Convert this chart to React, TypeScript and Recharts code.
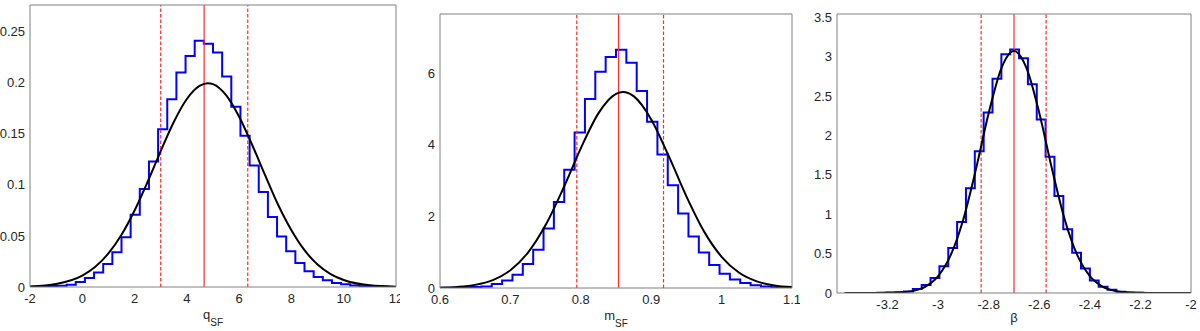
import React from "react";
import { ComposedChart, Line, XAxis, YAxis, ReferenceLine } from "recharts";

// q_SF panel: histogram (40 bins of 0.35 from -2) and fitted curve
const qBinStart = -2;
const qBinWidth = 0.35;
const qHist = [
  0.0003, 0.0006, 0.001, 0.0013, 0.0023, 0.005, 0.0088, 0.0143, 0.0225, 0.034,
  0.0486, 0.0707, 0.0958, 0.1229, 0.1545, 0.1838, 0.2099, 0.2262, 0.2409, 0.238,
  0.2295, 0.206, 0.1763, 0.148, 0.119, 0.0929, 0.0684, 0.0495, 0.0349, 0.0235,
  0.0153, 0.0098, 0.0065, 0.0039, 0.0026, 0.0015, 0.0008, 0.0004, 0.0002, 0.0001,
];
const qFitX = [-2, -1, 0, 0.5, 1, 1.5, 2, 2.5, 3, 3.5, 4, 4.5, 4.8, 5, 5.5, 6, 6.5, 7, 7.5, 8, 8.5, 9, 9.5, 10, 11, 12];
const qFitY = [
  0.0006, 0.003, 0.0112, 0.0198, 0.0328, 0.0511, 0.0749, 0.103, 0.133, 0.1615, 0.184, 0.197, 0.1995,
  0.1985, 0.1877, 0.1666, 0.139, 0.109, 0.08, 0.0555, 0.036, 0.022, 0.0126, 0.0068, 0.0016, 0.0003,
];
const qLines = [4.66, 3.0, 6.33]; // median, lower, upper
const qXTicks = [-2, 0, 2, 4, 6, 8, 10, 12];
const qYTicks = [0, 0.05, 0.1, 0.15, 0.2, 0.25];

// m_SF panel
const mBinStart = 0.6;
const mBinWidth = 0.5 / 34;
const mHist = [
  0.005, 0.01, 0.02, 0.03, 0.045, 0.11, 0.21, 0.37, 0.67, 1.07, 1.66, 2.4, 3.3, 4.34, 5.28, 6.04, 6.45,
  6.65, 6.29, 5.5, 4.64, 3.73, 2.87, 2.08, 1.44, 0.99, 0.64, 0.4, 0.24, 0.14, 0.08, 0.045, 0.02, 0.01,
];
const mFitX = [0.6, 0.625, 0.65, 0.675, 0.7, 0.725, 0.75, 0.775, 0.8, 0.825, 0.85, 0.86, 0.875, 0.9, 0.925, 0.95, 0.975, 1.0, 1.025, 1.05, 1.075, 1.1];
const mFitY = [
  0.0096, 0.031, 0.087, 0.22, 0.495, 0.99, 1.757, 2.777, 3.9, 4.876, 5.419, 5.47, 5.356, 4.707, 3.68,
  2.558, 1.581, 0.87, 0.425, 0.185, 0.0715, 0.0246,
];
const mLines = [0.8536, 0.7943, 0.9175];
const mXTicks = [0.6, 0.7, 0.8, 0.9, 1, 1.1];
const mYTicks = [0, 2, 4, 6];

// beta panel
const bBinStart = -3.24;
const bBinWidth = 0.035;
const bHist = [
  0.002, 0.005, 0.01, 0.02, 0.05, 0.1, 0.19, 0.34, 0.57, 0.9, 1.33, 1.8, 2.29, 2.72, 3.03,
  3.09, 2.98, 2.65, 2.2, 1.73, 1.23, 0.81, 0.51, 0.31, 0.16, 0.08, 0.04, 0.015, 0.006, 0.002,
];
const bFitX = [-3.37, -3.3, -3.2, -3.15, -3.1, -3.05, -3, -2.95, -2.9, -2.85, -2.8, -2.75, -2.7, -2.65, -2.6, -2.55, -2.5, -2.45, -2.4, -2.35, -2.3, -2.25, -2.2, -2.1, -2];
const bFitY = [
  0, 0.0001, 0.0019, 0.0077, 0.027, 0.082, 0.214, 0.483, 0.94, 1.578, 2.284, 2.851, 3.07,
  2.851, 2.284, 1.578, 0.94, 0.483, 0.214, 0.082, 0.027, 0.0077, 0.0019, 0.0001, 0,
];
const bLines = [-2.7, -2.83, -2.573];
const bXTicks = [-3.2, -3, -2.8, -2.6, -2.4, -2.2, -2];
const bYTicks = [0, 0.5, 1, 1.5, 2, 2.5, 3, 3.5];

const AXIS = "#808080";
const TEXT = "#262626";
const FONT = "'Liberation Sans', Arial, Helvetica, sans-serif";

function stairs(start: number, width: number, values: number[]) {
  const pts = [{ x: start, y: 0 }];
  values.forEach((v, i) => pts.push({ x: start + i * width, y: v }));
  const end = start + values.length * width;
  pts.push({ x: end, y: values[values.length - 1] });
  pts.push({ x: end, y: 0 });
  return pts;
}

function pairs(xs: number[], ys: number[]) {
  return xs.map((x, i) => ({ x, y: ys[i] }));
}

const axisLabel = (main: string, sub: string | null, dy: number) => (props: any) => {
  const vb = props.viewBox || {};
  return (
    <text x={vb.x + vb.width / 2} y={vb.y + dy} textAnchor="middle" fill={TEXT} fontSize={13} fontFamily={FONT}>
      <tspan>{main}</tspan>
      {sub && (
        <tspan fontSize={10} dy={7}>
          {sub}
        </tspan>
      )}
    </text>
  );
};

type PanelProps = {
  left: number;
  margin: { top: number; right: number; left: number; bottom: number };
  yAxisWidth: number;
  xAxisHeight: number;
  xDomain: [number, number];
  yDomain: [number, number];
  xTicks: number[];
  yTicks: number[];
  hist: { x: number; y: number }[];
  fit: { x: number; y: number }[];
  lines: number[];
  label: (props: any) => React.ReactNode;
};

function Panel(p: PanelProps) {
  const tickStyle = { fontSize: 13, fill: TEXT, fontFamily: FONT };
  return (
    <div style={{ position: "absolute", left: p.left, top: 0 }}>
      <ComposedChart width={400} height={331} margin={p.margin}>
        <XAxis
          xAxisId="b"
          type="number"
          dataKey="x"
          domain={p.xDomain}
          ticks={p.xTicks}
          allowDataOverflow
          interval={0}
          height={p.xAxisHeight}
          tickLine={false}
          tickSize={0}
          tickMargin={7}
          axisLine={{ stroke: AXIS }}
          tick={tickStyle}
          label={p.label}
        />
        <XAxis
          xAxisId="bi"
          type="number"
          domain={p.xDomain}
          ticks={p.xTicks}
          allowDataOverflow
          interval={0}
          mirror
          tick={false}
          axisLine={false}
          tickLine={{ stroke: AXIS }}
          tickSize={4}
        />
        <XAxis
          xAxisId="t"
          orientation="top"
          type="number"
          domain={p.xDomain}
          ticks={p.xTicks}
          allowDataOverflow
          interval={0}
          mirror
          tick={false}
          axisLine={{ stroke: AXIS }}
          tickLine={{ stroke: AXIS }}
          tickSize={4}
        />
        <YAxis
          yAxisId="l"
          type="number"
          domain={p.yDomain}
          ticks={p.yTicks}
          allowDataOverflow
          interval={0}
          width={p.yAxisWidth}
          tickLine={false}
          tickSize={0}
          tickMargin={5}
          axisLine={{ stroke: AXIS }}
          tick={tickStyle}
        />
        <YAxis
          yAxisId="li"
          type="number"
          domain={p.yDomain}
          ticks={p.yTicks}
          allowDataOverflow
          interval={0}
          mirror
          tick={false}
          axisLine={false}
          tickLine={{ stroke: AXIS }}
          tickSize={4}
        />
        <YAxis
          yAxisId="r"
          orientation="right"
          type="number"
          domain={p.yDomain}
          ticks={p.yTicks}
          allowDataOverflow
          interval={0}
          mirror
          tick={false}
          axisLine={{ stroke: AXIS }}
          tickLine={{ stroke: AXIS }}
          tickSize={4}
        />
        <Line
          xAxisId="b"
          yAxisId="l"
          data={p.hist}
          dataKey="y"
          type="stepAfter"
          stroke="#0000ff"
          strokeWidth={2}
          dot={false}
          isAnimationActive={false}
        />
        <ReferenceLine xAxisId="b" yAxisId="l" x={p.lines[0]} stroke="#ff2a2a" strokeWidth={1.2} />
        <ReferenceLine xAxisId="b" yAxisId="l" x={p.lines[1]} stroke="#ff2a2a" strokeWidth={1.2} strokeDasharray="3.5 2" />
        <ReferenceLine xAxisId="b" yAxisId="l" x={p.lines[2]} stroke="#ff2a2a" strokeWidth={1.2} strokeDasharray="3.5 2" />
        <Line
          xAxisId="b"
          yAxisId="l"
          data={p.fit}
          dataKey="y"
          type="monotone"
          stroke="#000000"
          strokeWidth={2}
          dot={false}
          isAnimationActive={false}
        />
      </ComposedChart>
    </div>
  );
}

export default function App() {
  return (
    <div
      style={{
        position: "absolute",
        left: 0,
        top: 0,
        width: 1200,
        height: 331,
        background: "#ffffff",
        fontFamily: FONT,
      }}
    >
      <Panel
        left={0}
        margin={{ top: 5, right: 4, left: 0, bottom: 0 }}
        yAxisWidth={30}
        xAxisHeight={44}
        xDomain={[-2, 12]}
        yDomain={[0, 0.276]}
        xTicks={qXTicks}
        yTicks={qYTicks}
        hist={stairs(qBinStart, qBinWidth, qHist)}
        fit={pairs(qFitX, qFitY)}
        lines={qLines}
        label={axisLabel("q", "SF", 32)}
      />
      <Panel
        left={400}
        margin={{ top: 14, right: 8, left: 0, bottom: 0 }}
        yAxisWidth={40}
        xAxisHeight={43}
        xDomain={[0.6, 1.1]}
        yDomain={[0, 7.65]}
        xTicks={mXTicks}
        yTicks={mYTicks}
        hist={stairs(mBinStart, mBinWidth, mHist)}
        fit={pairs(mFitX, mFitY)}
        lines={mLines}
        label={axisLabel("m", "SF", 32)}
      />
      <Panel
        left={800}
        margin={{ top: 14, right: 9, left: 0, bottom: 0 }}
        yAxisWidth={37}
        xAxisHeight={38}
        xDomain={[-3.4, -2]}
        yDomain={[0, 3.54]}
        xTicks={bXTicks}
        yTicks={bYTicks}
        hist={stairs(bBinStart, bBinWidth, bHist)}
        fit={pairs(bFitX, bFitY)}
        lines={bLines}
        label={axisLabel("β", null, 29)}
      />
    </div>
  );
}
